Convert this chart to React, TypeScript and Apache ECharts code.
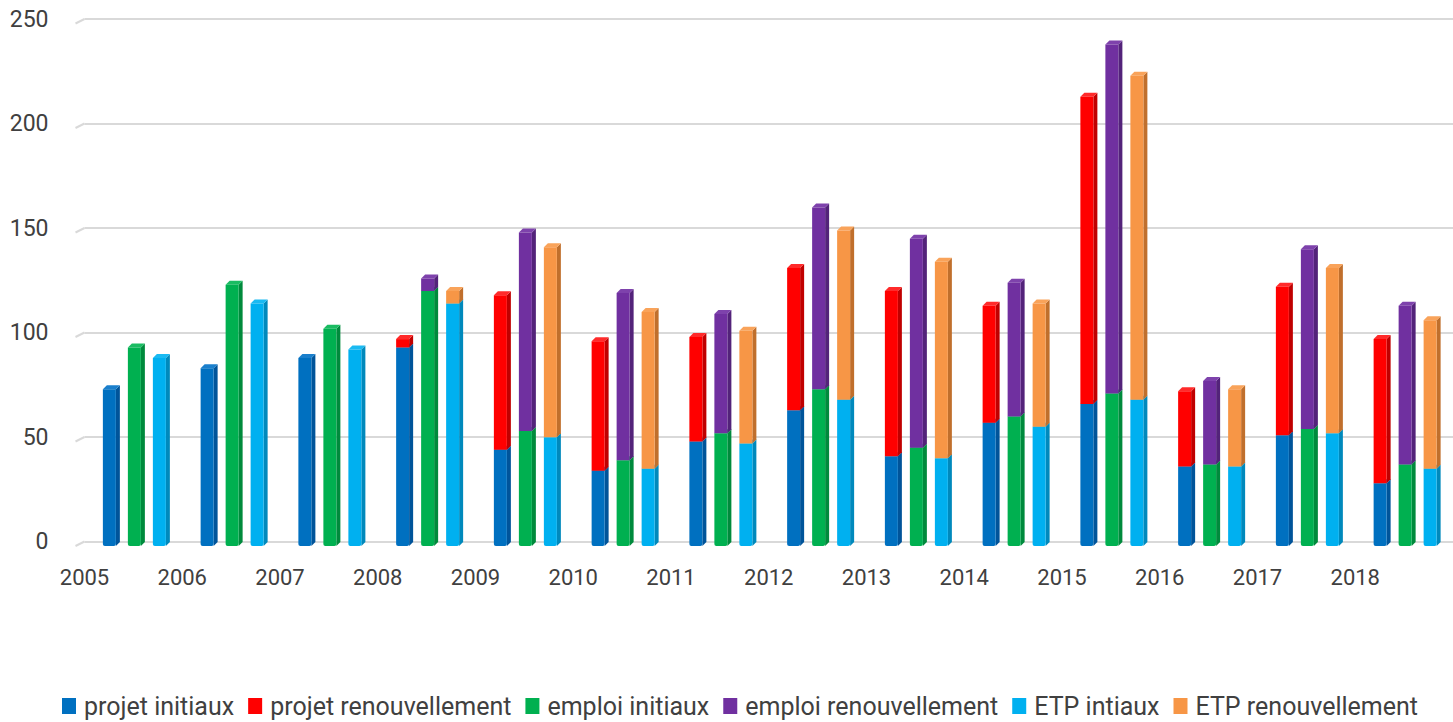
import React, { useEffect, useRef } from 'react';
import * as echarts from 'echarts';

const years = ['2005', '2006', '2007', '2008', '2009', '2010', '2011', '2012', '2013', '2014', '2015', '2016', '2017', '2018'];
const projetInitiaux = [75, 85, 90, 95, 46, 36, 50, 65, 43, 59, 68, 38, 53, 30];
const projetRenouvellement = [0, 0, 0, 4, 74, 62, 50, 68, 79, 56, 147, 36, 71, 69];
const emploiInitiaux = [95, 125, 104, 122, 55, 41, 54, 75, 47, 62, 73, 39, 56, 39];
const emploiRenouvellement = [0, 0, 0, 6, 95, 80, 57, 87, 100, 64, 167, 40, 86, 76];
const etpInitiaux = [90, 116, 94, 116, 52, 37, 49, 70, 42, 57, 70, 38, 54, 37];
const etpRenouvellement = [0, 0, 0, 6, 91, 75, 54, 81, 94, 59, 155, 37, 79, 71];
const yMin = 0;
const yMax = 250;
const yStep = 50;
const yTicks = [0, 50, 100, 150, 200, 250];

const FONT = 'Roboto, "Liberation Sans", sans-serif';
const TEXT = '#404040';
const GRID = '#D9D9D9';

type SeriesDef = {
  name: string;
  base: number[];
  values: number[];
  slot: number;
  color: string;
  side: string;
  top: string;
};

const defs: SeriesDef[] = [
  { name: 'projet initiaux', base: projetInitiaux.map(() => 0), values: projetInitiaux, slot: -1, color: '#0070C0', side: '#00549A', top: '#1A7FCC' },
  { name: 'projet renouvellement', base: projetInitiaux, values: projetRenouvellement, slot: -1, color: '#FF0000', side: '#C00000', top: '#FF2A2A' },
  { name: 'emploi initiaux', base: emploiInitiaux.map(() => 0), values: emploiInitiaux, slot: 0, color: '#00B050', side: '#008A3C', top: '#1ABC62' },
  { name: 'emploi renouvellement', base: emploiInitiaux, values: emploiRenouvellement, slot: 0, color: '#7030A0', side: '#53237A', top: '#7E42AC' },
  { name: 'ETP intiaux', base: etpInitiaux.map(() => 0), values: etpInitiaux, slot: 1, color: '#00B0F0', side: '#0089BC', top: '#1ABAF2' },
  { name: 'ETP renouvellement', base: etpInitiaux, values: etpRenouvellement, slot: 1, color: '#F79646', side: '#C06F2C', top: '#F9A35A' },
];

function makeRenderItem(d: SeriesDef) {
  return (params: any, api: any) => {
    const idx = api.value(0);
    const base = api.value(1);
    const val = api.value(2);
    if (!(val > 0)) return null;
    const pb = api.coord([idx, base]);
    const pt = api.coord([idx, base + val]);
    const fw = 13;
    const dep = 4;
    const drop = 4.5;
    const cx = pb[0] + 1 + d.slot * 25;
    const x0 = cx - fw / 2;
    const x1 = cx + fw / 2;
    const yb = pb[1] + drop;
    const yt = pt[1] + drop;
    return {
      type: 'group',
      children: [
        {
          type: 'polygon',
          shape: { points: [[x1, yt], [x1 + dep, yt - dep], [x1 + dep, yb - dep], [x1, yb]] },
          style: { fill: d.side },
        },
        {
          type: 'polygon',
          shape: { points: [[x0, yt], [x0 + dep, yt - dep], [x1 + dep, yt - dep], [x1, yt]] },
          style: { fill: d.top },
        },
        {
          type: 'rect',
          shape: { x: x0, y: yt, width: fw, height: yb - yt, r: base === 0 ? [0, 0, 2, 2] : 0 },
          style: { fill: d.color },
        },
      ],
    };
  };
}

export default function App() {
  const ref = useRef<HTMLDivElement>(null);
  useEffect(() => {
    if (!ref.current) return;
    const chart = echarts.init(ref.current, null, { renderer: 'svg' });
    const gridLeft = 84.5;
    chart.setOption({
      animation: false,
      backgroundColor: '#ffffff',
      textStyle: { fontFamily: FONT },
      grid: { left: gridLeft, right: -12, top: 19, bottom: 180.5, containLabel: false },
      legend: {
        left: 57,
        top: 688,
        icon: 'rect',
        itemWidth: 14,
        itemHeight: 16,
        itemGap: 14,
        textStyle: { fontFamily: FONT, fontSize: 25, lineHeight: 26, color: TEXT, padding: [0, 0, 0, 3] },
        data: defs.map((d) => d.name),
      },
      xAxis: [
        {
          type: 'category',
          data: years,
          position: 'bottom',
          axisLine: { show: false },
          axisTick: { show: false },
          axisLabel: { show: false },
          splitLine: { show: false },
        },
        {
          type: 'value',
          min: 0,
          max: years.length,
          interval: 1,
          position: 'bottom',
          axisLine: { show: false },
          axisTick: { show: false },
          splitLine: { show: false },
          axisLabel: {
            show: true,
            margin: 25,
            fontFamily: FONT,
            fontSize: 22,
            color: TEXT,
            showMaxLabel: false,
            formatter: (v: number) => years[v] ?? '',
          },
        },
      ],
      yAxis: {
        type: 'value',
        min: yMin,
        max: yMax,
        interval: yStep,
        axisLine: { show: false },
        axisTick: { show: false },
        axisLabel: { margin: 36, fontFamily: FONT, fontSize: 23, color: TEXT, padding: [12, 0, 0, 0] },
        splitLine: { lineStyle: { color: GRID, width: 2 } },
      },
      series: defs.map((d) => ({
        name: d.name,
        type: 'custom',
        xAxisIndex: 0,
        yAxisIndex: 0,
        itemStyle: { color: d.color },
        encode: { x: 0, y: [1, 2] },
        renderItem: makeRenderItem(d),
        data: d.values.map((v, i) => [i, d.base[i], v]),
      })),
    });
    // small floor/wall perspective stubs at the left end of each gridline
    const stubs = yTicks.map((t) => {
      const y = chart.convertToPixel({ yAxisIndex: 0 }, t) as number;
      return {
        type: 'line',
        silent: true,
        shape: { x1: gridLeft - 9, y1: y + 4.5, x2: gridLeft, y2: y },
        style: { stroke: GRID, lineWidth: 2 },
      };
    });
    chart.setOption({ graphic: stubs });
    return () => chart.dispose();
  }, []);
  return <div ref={ref} style={{ position: 'absolute', left: 0, top: 0, width: 1453, height: 722 }} />;
}
